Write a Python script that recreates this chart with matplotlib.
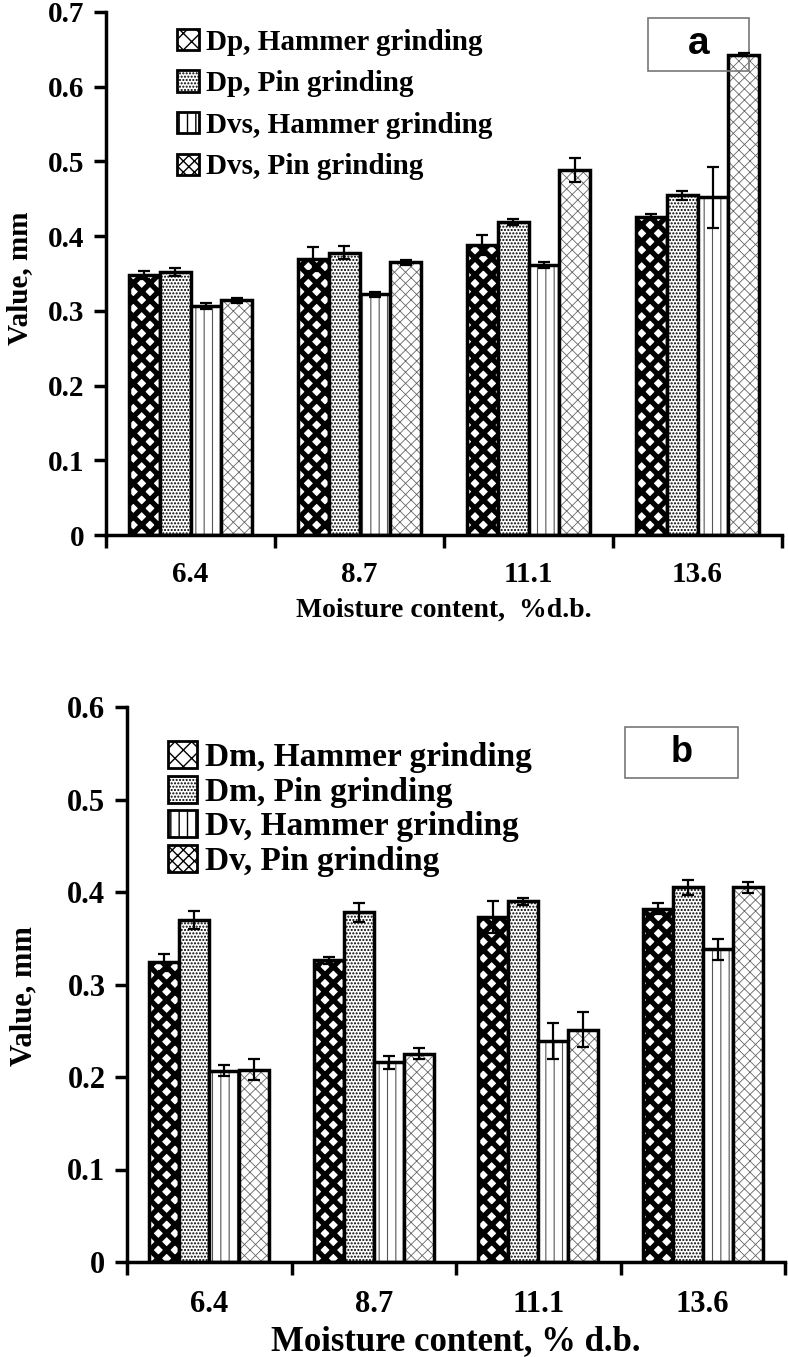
import matplotlib.pyplot as plt
from matplotlib.patches import Patch, Rectangle
import numpy as np

plt.rcParams['font.family'] = ['Liberation Serif', 'DejaVu Serif']
plt.rcParams['font.weight'] = 'bold'
plt.rcParams['axes.labelweight'] = 'bold'

moisture = ['6.4', '8.7', '11.1', '13.6']

# panel a: Dp / Dvs
a_labels = ['Dp, Hammer grinding', 'Dp, Pin grinding',
            'Dvs, Hammer grinding', 'Dvs, Pin grinding']
a_dp_hammer = [0.348, 0.370, 0.388, 0.425]
a_dp_pin = [0.352, 0.378, 0.419, 0.455]
a_dvs_hammer = [0.306, 0.322, 0.361, 0.452]
a_dvs_pin = [0.314, 0.365, 0.489, 0.643]
a_err_dp_hammer = [0.006, 0.016, 0.013, 0.004]
a_err_dp_pin = [0.006, 0.009, 0.004, 0.006]
a_err_dvs_hammer = [0.004, 0.003, 0.004, 0.041]
a_err_dvs_pin = [0.003, 0.003, 0.016, 0.002]

# panel b: Dm / Dv
b_labels = ['Dm, Hammer grinding', 'Dm, Pin grinding',
            'Dv, Hammer grinding', 'Dv, Pin grinding']
b_dm_hammer = [0.324, 0.326, 0.373, 0.382]
b_dm_pin = [0.370, 0.378, 0.390, 0.405]
b_dv_hammer = [0.207, 0.216, 0.239, 0.338]
b_dv_pin = [0.208, 0.225, 0.251, 0.405]
b_err_dm_hammer = [0.009, 0.004, 0.017, 0.006]
b_err_dm_pin = [0.010, 0.010, 0.004, 0.008]
b_err_dv_hammer = [0.006, 0.007, 0.019, 0.011]
b_err_dv_pin = [0.011, 0.006, 0.019, 0.006]

# hatch, hatch colour, hatch line width
styles = [('xx', 'black', 3.8),
          ('.....', 'black', 1.0),
          ('||', '#555555', 0.8),
          ('xxx', '#666666', 0.6)]


def draw_panel(ax, series, errors, labels, ymax, tag, tick_fs, cat_pad,
               legend_fs, legend_anchor, labelspacing, handle, tag_box, tag_fs):
    x = np.arange(len(moisture))
    w = 0.183
    for i, (vals, errs, st) in enumerate(zip(series, errors, styles)):
        pos = x + (i - 1.5) * w
        with plt.rc_context({'hatch.linewidth': st[2]}):
            ax.bar(pos, vals, w, color='white', edgecolor=st[1], hatch=st[0], linewidth=0)
        ax.bar(pos, vals, w, fill=False, edgecolor='black', linewidth=2.5)
        ax.errorbar(pos, vals, yerr=errs, fmt='none', ecolor='black',
                    elinewidth=1.6, capsize=4.5, capthick=1.6)

    ax.set_xlim(-0.5, len(moisture) - 0.5)
    ax.set_ylim(0, ymax)
    ax.set_yticks(np.arange(0, ymax + 0.001, 0.1))
    ax.set_yticklabels(['0'] + ['%.1f' % v for v in np.arange(0.1, ymax + 0.001, 0.1)])
    ax.set_xticks(np.arange(-0.5, len(moisture), 1.0))
    ax.set_xticklabels([])
    ax.set_xticks(x, minor=True)
    ax.set_xticklabels(moisture, minor=True)
    ax.tick_params(axis='x', which='minor', length=0, pad=cat_pad, labelsize=tick_fs)
    ax.tick_params(axis='x', which='major', length=9, width=2.5, direction='out')
    ax.tick_params(axis='y', length=8.5, width=2.5, direction='out', pad=7, labelsize=tick_fs)
    for s in ['top', 'right']:
        ax.spines[s].set_visible(False)
    for s in ['left', 'bottom']:
        ax.spines[s].set_linewidth(2.5)

    handles = []
    with plt.rc_context({'hatch.linewidth': 1.0}):
        for st in styles:
            handles.append(Patch(facecolor='white', edgecolor='black', hatch=st[0], linewidth=2))
    ax.legend(handles, labels, loc='upper left', bbox_to_anchor=legend_anchor,
              frameon=False, fontsize=legend_fs, handlelength=handle, handleheight=handle,
              handletextpad=0.25, labelspacing=labelspacing, borderpad=0, borderaxespad=0)

    bx, by, bw, bh = tag_box
    ax.add_patch(Rectangle((bx, by), bw, bh, transform=ax.transAxes, fill=False,
                           edgecolor='#777777', linewidth=1.2, clip_on=False))
    ax.text(bx + bw / 2, by + bh / 2, tag, transform=ax.transAxes, ha='center', va='center',
            fontsize=tag_fs, fontweight='bold', family='Liberation Sans')


fig = plt.figure(figsize=(7.88, 13.57), dpi=100)
W, H = 788.0, 1357.0

# panel a: x 106..782, y(0)=535, y(0.7)=12
ax1 = fig.add_axes([106 / W, 1 - 535 / H, 676 / W, 523 / H])
draw_panel(ax1, [a_dp_hammer, a_dp_pin, a_dvs_hammer, a_dvs_pin],
           [a_err_dp_hammer, a_err_dp_pin, a_err_dvs_hammer, a_err_dvs_pin],
           a_labels, 0.7, 'a', 21, 19, 21, (0.105, 0.968), 0.5, 0.75,
           (542 / 676, 464 / 523, 101 / 676, 53 / 523), 28)
ax1.set_ylabel('Value, mm', fontsize=21)
ax1.yaxis.set_label_coords(-0.108, 0.49)
ax1.set_xlabel('Moisture content,  %d.b.', fontsize=20)
ax1.xaxis.set_label_coords(0.5, -0.12)

# panel b: x 127..785, y(0)=1262, y(0.6)=707
ax2 = fig.add_axes([127 / W, 1 - 1262 / H, 658 / W, 555 / H])
draw_panel(ax2, [b_dm_hammer, b_dm_pin, b_dv_hammer, b_dv_pin],
           [b_err_dm_hammer, b_err_dm_pin, b_err_dv_hammer, b_err_dv_pin],
           b_labels, 0.6, 'b', 22, 20, 24, (0.062, 0.939), 0.08, 0.87,
           (498 / 658, 484 / 555, 113 / 658, 51 / 555), 26)
ax2.set_ylabel('Value, mm', fontsize=22)
ax2.yaxis.set_label_coords(-0.135, 0.48)
ax2.set_xlabel('Moisture content, % d.b.', fontsize=25)
ax2.xaxis.set_label_coords(0.5, -0.113)

fig.savefig('out.png', dpi=100)
